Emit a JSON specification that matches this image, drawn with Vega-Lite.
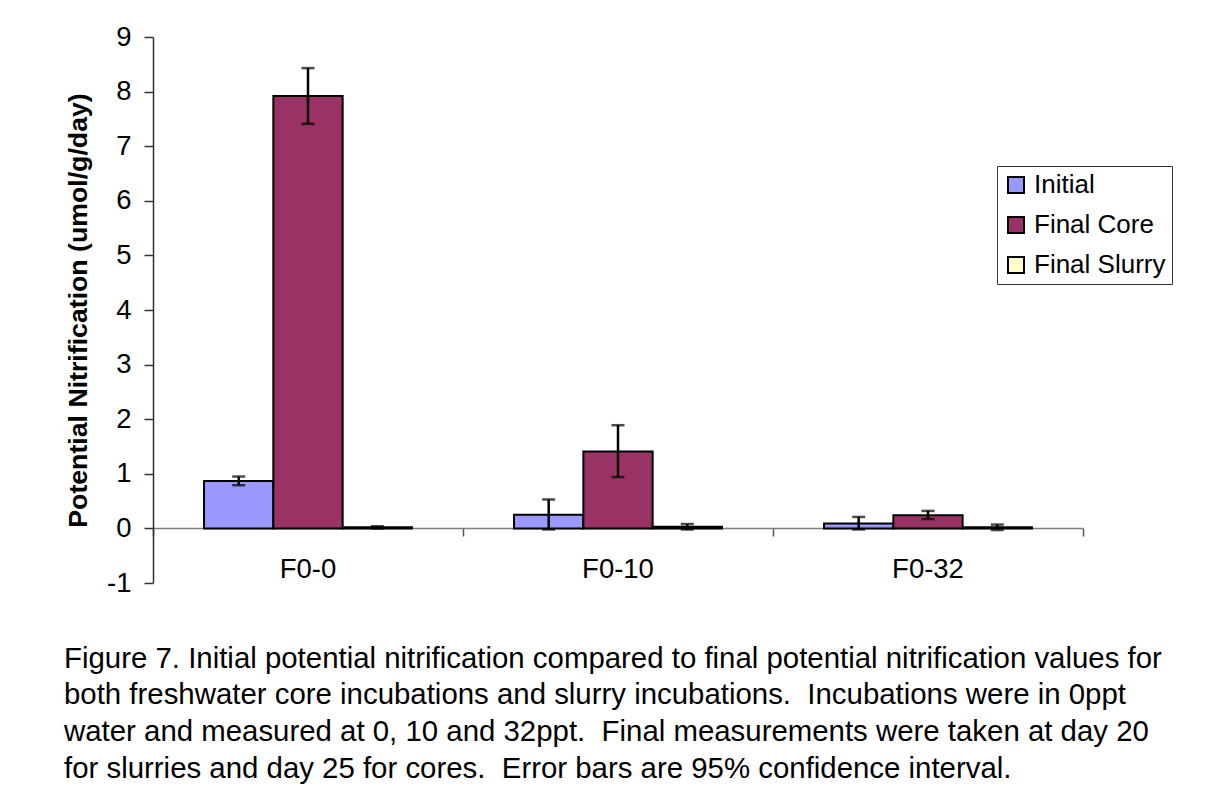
{
  "$schema": "https://vega.github.io/schema/vega-lite/v6.json",
  "width": 930,
  "height": 546,
  "autosize": {"type": "none"},
  "padding": {"left": 153, "top": 37, "right": 137, "bottom": 224},
  "background": "white",
  "config": {
    "font": "Liberation Sans",
    "view": {"stroke": null},
    "axis": {"grid": false}
  },
  "title": {
    "text": [
      "Figure 7. Initial potential nitrification compared to final potential nitrification values for",
      "both freshwater core incubations and slurry incubations. \u00a0Incubations were in 0ppt",
      "water and measured at 0, 10 and 32ppt. \u00a0Final measurements were taken at day 20",
      "for slurries and day 25 for cores. \u00a0Error bars are 95% confidence interval."
    ],
    "orient": "bottom",
    "anchor": "start",
    "frame": "group",
    "dx": -89,
    "offset": 48,
    "font": "Liberation Sans",
    "fontSize": 29.4,
    "fontWeight": "normal",
    "lineHeight": 36.7,
    "color": "black"
  },
  "data": {
    "values": [
      {"site": "F0-0", "series": "Initial", "value": 0.87, "lo": 0.79, "hi": 0.95},
      {"site": "F0-0", "series": "Final Core", "value": 7.92, "lo": 7.41, "hi": 8.43},
      {"site": "F0-0", "series": "Final Slurry", "value": 0.02, "lo": 0.0, "hi": 0.04},
      {"site": "F0-10", "series": "Initial", "value": 0.25, "lo": -0.02, "hi": 0.53},
      {"site": "F0-10", "series": "Final Core", "value": 1.41, "lo": 0.94, "hi": 1.89},
      {"site": "F0-10", "series": "Final Slurry", "value": 0.03, "lo": -0.02, "hi": 0.08},
      {"site": "F0-32", "series": "Initial", "value": 0.09, "lo": -0.02, "hi": 0.21},
      {"site": "F0-32", "series": "Final Core", "value": 0.24, "lo": 0.17, "hi": 0.32},
      {"site": "F0-32", "series": "Final Slurry", "value": 0.02, "lo": -0.03, "hi": 0.07}
    ]
  },
  "encoding": {
    "x": {
      "field": "site",
      "type": "nominal",
      "sort": ["F0-0", "F0-10", "F0-32"],
      "scale": {"paddingInner": 0, "paddingOuter": 0},
      "axis": {
        "title": null,
        "orient": "bottom",
        "offset": -55,
        "labelAngle": 0,
        "labelFontSize": 27.5,
        "labelColor": "black",
        "labelPadding": 19,
        "tickSize": 8,
        "tickColor": "#555555",
        "tickWidth": 1.5,
        "bandPosition": 1,
        "tickExtra": true,
        "domainColor": "#808080",
        "domainWidth": 1.5
      }
    },
    "xOffset": {
      "field": "series",
      "type": "nominal",
      "sort": ["Initial", "Final Core", "Final Slurry"],
      "scale": {"paddingInner": 0, "paddingOuter": 0.7365}
    }
  },
  "layer": [
    {
      "mark": {"type": "bar", "stroke": "black", "strokeWidth": 2},
      "encoding": {
        "y": {
          "field": "value",
          "type": "quantitative",
          "scale": {"domain": [-1, 9], "nice": false, "zero": false},
          "axis": {
            "title": "Potential Nitrification (umol/g/day)",
            "titleFontSize": 26.7,
            "titleFontWeight": "bold",
            "titleColor": "black",
            "titlePadding": 14,
            "values": [-1, 0, 1, 2, 3, 4, 5, 6, 7, 8, 9],
            "labelExpr": "'' + datum.value",
            "labelFontSize": 27.5,
            "labelColor": "black",
            "labelPadding": 13,
            "tickSize": 9,
            "tickColor": "#333333",
            "tickWidth": 1.5,
            "domainColor": "#333333",
            "domainWidth": 1.5
          }
        },
        "color": {
          "field": "series",
          "type": "nominal",
          "scale": {
            "domain": ["Initial", "Final Core", "Final Slurry"],
            "range": ["#9999FF", "#993366", "#FFFFCC"]
          },
          "legend": {
            "title": null,
            "orient": "none",
            "legendX": 844,
            "legendY": 129,
            "direction": "vertical",
            "fillColor": "white",
            "strokeColor": "#333333",
            "padding": 6,
            "labelFont": "Liberation Sans",
            "labelFontSize": 26,
            "labelColor": "black",
            "labelOffset": 5,
            "rowPadding": 14,
            "symbolType": "square",
            "symbolSize": 256,
            "symbolStrokeColor": "black",
            "symbolStrokeWidth": 2,
            "symbolOpacity": 1
          }
        }
      }
    },
    {
      "mark": {"type": "rule", "color": "black", "strokeWidth": 2.5},
      "encoding": {
        "y": {"field": "lo", "type": "quantitative"},
        "y2": {"field": "hi"}
      }
    },
    {
      "mark": {"type": "tick", "color": "black", "size": 13, "thickness": 2.5, "orient": "horizontal"},
      "encoding": {
        "y": {"field": "hi", "type": "quantitative"}
      }
    },
    {
      "mark": {"type": "tick", "color": "black", "size": 13, "thickness": 2.5, "orient": "horizontal"},
      "encoding": {
        "y": {"field": "lo", "type": "quantitative"}
      }
    }
  ]
}
